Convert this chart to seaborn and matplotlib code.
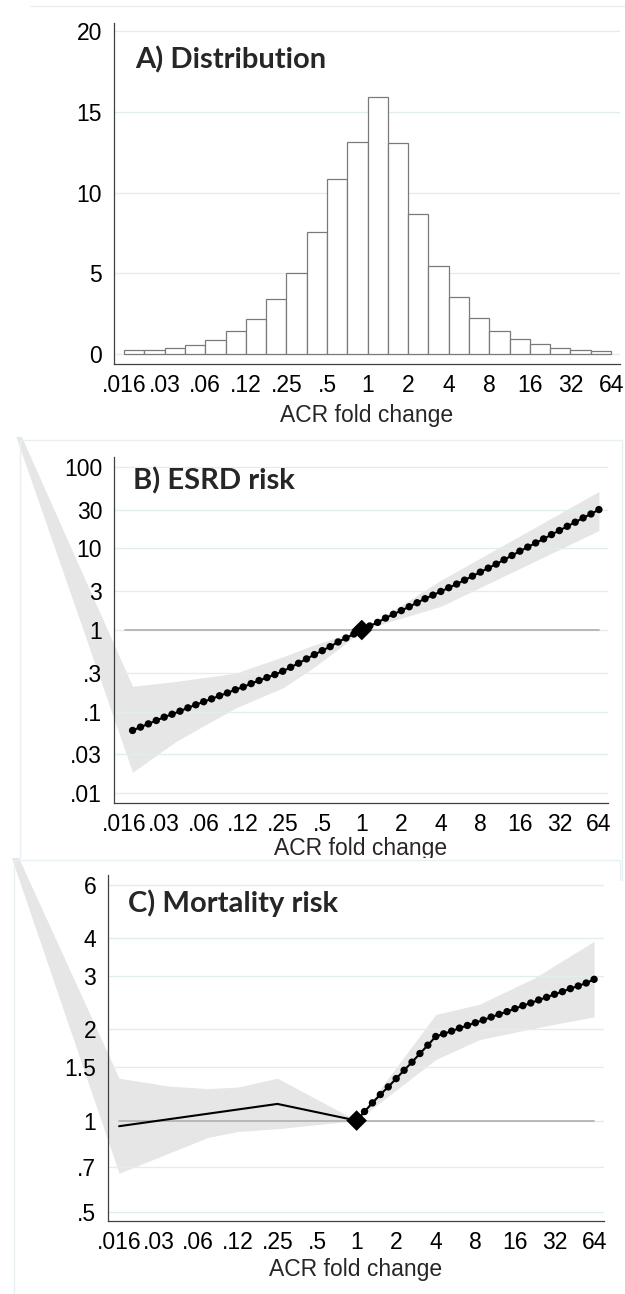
import numpy as np
import matplotlib
matplotlib.use("Agg")
import matplotlib.pyplot as plt
from matplotlib.patches import Rectangle
from matplotlib.lines import Line2D
from matplotlib.ticker import FixedLocator, MultipleLocator, NullLocator
import seaborn as sns

sns.set_theme(style="white")
plt.rcParams["font.family"] = ["Liberation Sans", "DejaVu Sans"]

# ---------------- data ----------------
# x axis: ACR fold change on a log2 scale
fold_tick_pos = [-6, -5, -4, -3, -2, -1, 0, 1, 2, 3, 4, 5, 6]
fold_tick_labels = [".016", ".03", ".06", ".12", ".25", ".5", "1", "2", "4", "8", "16", "32", "64"]

# A) distribution of ACR fold change (percent per half-doubling bin)
hist_edges = [-6.0, -5.5, -5.0, -4.5, -4.0, -3.5, -3.0, -2.5, -2.0, -1.5, -1.0, -0.5,
              0.0, 0.5, 1.0, 1.5, 2.0, 2.5, 3.0, 3.5, 4.0, 4.5, 5.0, 5.5, 6.0]
hist_pct = [0.25, 0.27, 0.40, 0.55, 0.85, 1.42, 2.15, 3.42, 5.02, 7.54, 10.84, 13.16,
            15.91, 13.06, 8.66, 5.45, 3.52, 2.21, 1.42, 0.95, 0.60, 0.35, 0.23, 0.17]
hist_yticks = [0, 5, 10, 15, 20]

# B) ESRD risk: hazard ratio by ACR fold change
esrd_x = [-5.8, -5.6, -5.4, -5.2, -5.0, -4.8, -4.6, -4.4, -4.2, -4.0,
          -3.8, -3.6, -3.4, -3.2, -3.0, -2.8, -2.6, -2.4, -2.2, -2.0,
          -1.8, -1.6, -1.4, -1.2, -1.0, -0.8, -0.6, -0.4, -0.2, 0.0,
          0.2, 0.4, 0.6, 0.8, 1.0, 1.2, 1.4, 1.6, 1.8, 2.0,
          2.2, 2.4, 2.6, 2.8, 3.0, 3.2, 3.4, 3.6, 3.8, 4.0,
          4.2, 4.4, 4.6, 4.8, 5.0, 5.2, 5.4, 5.6, 5.8, 6.0]
esrd_hr = [0.0586, 0.0644, 0.0706, 0.0776, 0.0853, 0.0927, 0.101, 0.111, 0.121, 0.132,
           0.143, 0.156, 0.169, 0.185, 0.200, 0.220, 0.240, 0.261, 0.284, 0.312,
           0.349, 0.391, 0.442, 0.499, 0.558, 0.625, 0.713, 0.798, 0.893, 1.0,
           1.12, 1.24, 1.40, 1.56, 1.73, 1.93, 2.16, 2.42, 2.68, 2.97,
           3.30, 3.66, 4.09, 4.58, 5.13, 5.74, 6.43, 7.26, 8.20, 9.27,
           10.4, 11.7, 13.1, 14.8, 16.6, 18.7, 21.0, 23.7, 26.5, 30.0]
esrd_ci_x = [-9.25, -5.8, -4.7, -3.2, -2.0, -1.3, -0.5, 0.0, 2.0, 6.0]
esrd_ci_lo = [1170, 0.018, 0.043, 0.110, 0.195, 0.324, 0.631, 1.0, 1.95, 16.6]
esrd_ci_hi = [1170, 0.204, 0.234, 0.295, 0.468, 0.631, 0.851, 1.0, 4.07, 50.0]
esrd_yticks = [100, 30, 10, 3, 1, 0.3, 0.1, 0.03, 0.01]
esrd_ylabels = ["100", "30", "10", "3", "1", ".3", ".1", ".03", ".01"]

# C) Mortality risk: hazard ratio by ACR fold change
mort_x = [-6.0, -2.0, 0.0,
          0.2, 0.4, 0.6, 0.8, 1.0, 1.2, 1.4, 1.6, 1.8, 2.0,
          2.2, 2.4, 2.6, 2.8, 3.0, 3.2, 3.4, 3.6, 3.8, 4.0,
          4.2, 4.4, 4.6, 4.8, 5.0, 5.2, 5.4, 5.6, 5.8, 6.0]
mort_hr = [0.958, 1.135, 1.0,
           1.071, 1.144, 1.219, 1.292, 1.376, 1.466, 1.559, 1.665, 1.774, 1.895,
           1.934, 1.974, 2.020, 2.061, 2.104, 2.147, 2.197, 2.243, 2.289, 2.342,
           2.396, 2.445, 2.502, 2.553, 2.612, 2.665, 2.727, 2.782, 2.846, 2.927]
mort_ci_x = [-9.25, -6.0, -4.75, -3.75, -3.0, -2.0, 0.0, 2.0, 3.1, 4.5, 6.0]
mort_ci_lo = [11.8, 0.67, 0.78, 0.88, 0.92, 0.94, 1.0, 1.59, 1.85, 2.02, 2.20]
mort_ci_hi = [11.8, 1.38, 1.30, 1.275, 1.29, 1.38, 1.0, 2.24, 2.42, 2.96, 3.91]
mort_yticks = [6, 4, 3, 2, 1.5, 1, 0.7, 0.5]
mort_ylabels = ["6", "4", "3", "2", "1.5", "1", ".7", ".5"]

# ---------------- styling ----------------
W, H = 625, 1294
AXIS_C = "#404040"
GRID_C = "#e2edf0"
BAND_C = "#e6e6e6"
REF_C = "#b3b3b3"
BORDER_C = "#e9f0f3"
TICK_FS = 16.5
TITLE_FS = 21
TITLE_FONT = ["Lato", "Open Sans", "DejaVu Sans"]

fig = plt.figure(figsize=(W / 100, H / 100), dpi=100)
fig.patch.set_facecolor("white")


def axes_px(left, top, right, bottom):
    return fig.add_axes([left / W, 1 - bottom / H, (right - left) / W, (bottom - top) / H])


def style_axes(ax, below=True):
    for side in ("top", "right"):
        ax.spines[side].set_visible(False)
    for side in ("left", "bottom"):
        ax.spines[side].set_color(AXIS_C)
        ax.spines[side].set_linewidth(0.9)
    ax.tick_params(axis="both", which="major", direction="out", length=4, width=0.8,
                   color=AXIS_C, labelsize=TICK_FS, labelcolor="black")
    ax.tick_params(axis="x", which="major", pad=3)
    ax.tick_params(axis="y", which="major", pad=4.5)
    ax.tick_params(axis="both", which="minor", direction="out", length=2.5, width=0.7,
                   color=AXIS_C)
    ax.set_facecolor("white")
    # grid and tick labels sit above the shaded bands but below the curves
    ax.set_axisbelow(True if below else "line")
    ax.xaxis.grid(False)
    ax.yaxis.grid(True, color=GRID_C, linewidth=1.0)
    ax.set_xticks(fold_tick_pos)
    ax.set_xticklabels(fold_tick_labels)
    ax.set_xlabel("")
    ax.set_ylabel("")


def clip_to_region(artist, top_px, bottom_px):
    rect = Rectangle((0, 1 - bottom_px / H), 1, (bottom_px - top_px) / H,
                     transform=fig.transFigure, facecolor="none", edgecolor="none")
    artist.set_clip_on(True)
    artist.set_clip_path(rect)


def faint_line(x0, y0, x1, y1):
    fig.add_artist(Line2D([x0 / W, x1 / W], [1 - y0 / H, 1 - y1 / H],
                          transform=fig.transFigure, color=BORDER_C, linewidth=1.0))


# panel frames
faint_line(30, 6, 625, 6)
faint_line(20, 440, 622, 440)
faint_line(20, 440, 20, 858)
faint_line(622, 440, 622, 880)
faint_line(14, 860, 620, 860)
faint_line(14, 860, 14, 1294)
faint_line(620, 860, 620, 880)

# ---------- A) Distribution ----------
axA = axes_px(114, 23, 620, 364)
sns.histplot(x=[(a + b) / 2 for a, b in zip(hist_edges[:-1], hist_edges[1:])],
             weights=hist_pct, bins=hist_edges, stat="count", element="bars",
             fill=True, color="white", alpha=1, edgecolor="#7a7a7a", linewidth=0.9,
             ax=axA)
style_axes(axA)
axA.set_xlim(-6.25, 6.22)
axA.set_ylim(-0.62, 20.5)
axA.yaxis.set_major_locator(FixedLocator(hist_yticks))
axA.set_yticklabels([str(v) for v in hist_yticks])
axA.yaxis.set_minor_locator(MultipleLocator(1))
axA.xaxis.set_minor_locator(NullLocator())
axA.set_xlabel("ACR fold change", fontsize=TICK_FS, labelpad=5)
fig.text(135 / W, 1 - 60 / H, "A) Distribution", fontsize=TITLE_FS, fontweight="bold",
         family=TITLE_FONT, va="center", ha="left")

# ---------- B) ESRD risk ----------
axB = axes_px(114, 457, 608, 803)
fillB = axB.fill_between(esrd_ci_x, esrd_ci_lo, esrd_ci_hi, color=BAND_C,
                         linewidth=0, zorder=1)
clip_to_region(fillB, 437, 880)
axB.plot([-6, 6], [1, 1], color=REF_C, linewidth=1.3, zorder=2)
sns.lineplot(x=esrd_x, y=esrd_hr, color="black", linewidth=1.5, ax=axB, zorder=3)
dots_b = [(x, y) for x, y in zip(esrd_x, esrd_hr) if x != 0.0]
sns.scatterplot(x=[d[0] for d in dots_b], y=[d[1] for d in dots_b], color="black",
                s=28, edgecolor="none", ax=axB, zorder=4)
sns.scatterplot(x=[0.0], y=[esrd_hr[esrd_x.index(0.0)]], marker="D", color="black",
                s=110, edgecolor="none", ax=axB, zorder=5)
axB.set_yscale("log")
style_axes(axB, below=False)
axB.set_xlim(-6.27, 6.23)
axB.set_ylim(10 ** -2.122, 10 ** 2.122)
axB.yaxis.set_major_locator(FixedLocator(esrd_yticks))
axB.yaxis.set_minor_locator(NullLocator())
axB.set_yticklabels(esrd_ylabels)
axB.xaxis.set_minor_locator(NullLocator())
xlB = fig.text(361 / W, 1 - 848 / H, "ACR fold change", fontsize=TICK_FS,
               ha="center", va="center")
clip_to_region(xlB, 0, 858)
fig.text(133 / W, 1 - 481 / H, "B) ESRD risk", fontsize=TITLE_FS, fontweight="bold",
         family=TITLE_FONT, va="center", ha="left")

# ---------- C) Mortality risk ----------
axC = axes_px(108, 875, 604, 1221)
fillC = axC.fill_between(mort_ci_x, mort_ci_lo, mort_ci_hi, color=BAND_C,
                         linewidth=0, zorder=1)
clip_to_region(fillC, 858, 1294)
axC.plot([-6, 6], [1, 1], color=REF_C, linewidth=1.3, zorder=2)
sns.lineplot(x=mort_x, y=mort_hr, color="black", linewidth=1.5, ax=axC, zorder=3,
             sort=False)
dots_c = [(x, y) for x, y in zip(mort_x, mort_hr) if x > 0.0]
sns.scatterplot(x=[d[0] for d in dots_c], y=[d[1] for d in dots_c], color="black",
                s=28, edgecolor="none", ax=axC, zorder=4)
sns.scatterplot(x=[0.0], y=[mort_hr[mort_x.index(0.0)]], marker="D", color="black",
                s=110, edgecolor="none", ax=axC, zorder=5)
axC.set_yscale("log")
style_axes(axC, below=False)
axC.set_xlim(-6.28, 6.25)
axC.set_ylim(0.466, 6.47)
axC.yaxis.set_major_locator(FixedLocator(mort_yticks))
axC.yaxis.set_minor_locator(NullLocator())
axC.set_yticklabels(mort_ylabels)
axC.xaxis.set_minor_locator(NullLocator())
axC.set_xlabel("ACR fold change", fontsize=TICK_FS, labelpad=3)
fig.text(128 / W, 1 - 903 / H, "C) Mortality risk", fontsize=TITLE_FS, fontweight="bold",
         family=TITLE_FONT, va="center", ha="left")

fig.savefig("out.png", dpi=100, facecolor="white")
